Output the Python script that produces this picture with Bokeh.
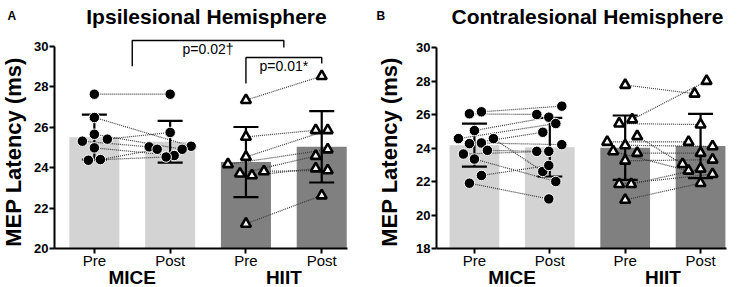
import math
from bokeh.plotting import figure
from bokeh.layouts import row
from bokeh.models import Range1d, FixedTicker, LinearAxis
from bokeh.core.properties import value
from bokeh.embed import file_html
from bokeh.resources import INLINE

FONT = "Liberation Sans"

# ---------------- data ----------------
conditions = ["Pre", "Post", "Pre", "Post"]
groups = ["MICE", "HIIT"]
ticks_A = [20, 22, 24, 26, 28, 30]
ticks_B = [18, 20, 22, 24, 26, 28, 30]

# Panel A: Ipsilesional (paired, same order pre/post)
A_mice_pre = [27.62, 26.47, 25.64, 25.40, 25.30, 24.97, 24.36, 24.39]
A_mice_post = [27.62, 25.05, 24.90, 25.73, 25.02, 24.59, 24.52, 24.90]
A_hiit_pre = [27.33, 25.51, 24.52, 24.16, 23.70, 23.61, 23.81, 21.22]
A_hiit_post = [28.51, 25.84, 25.84, 24.89, 24.57, 23.95, 23.86, 22.62]
A_means = [25.50, 25.27, 24.27, 25.02]
A_sd = [1.11, 1.03, 1.73, 1.76]

# Panel B: Contralesional
B_mice_pre = [26.04, 26.16, 25.04, 24.56, 24.56, 24.26, 24.30, 23.86, 23.64, 23.34, 22.36, 21.90]
B_mice_post = [26.00, 26.50, 25.84, 25.46, 22.60, 24.94, 24.20, 23.80, 23.80, 22.00, 22.96, 20.96]
B_hiit_pre = [27.76, 25.70, 25.46, 24.70, 24.36, 24.16, 23.80, 23.70, 23.24, 21.84, 21.84, 20.90]
B_hiit_post = [27.24, 28.00, 25.40, 23.04, 24.36, 24.10, 22.64, 23.70, 23.30, 22.44, 22.76, 21.90]
B_means = [24.17, 24.05, 24.02, 24.12]
B_sd = [1.28, 1.75, 1.92, 1.92]

# horizontal scatter jitter of the points (pixels)
A_jit_mice_pre = [0, 0, 0, 13, -12, 0, -6, 6]
A_jit_mice_post = [0, 21, 12, 0, -21, 4, -4, -13]
A_jit_hiit_pre = [0, 0, 0, -18, -6, 6, 18, 0]
A_jit_hiit_post = [0, -6, 6, 6, -6, -6, 6, 0]
B_jit_mice_pre = [-5, 7, 0, -16, 19, -5, 7, 13, -11, 0, 7, -5]
B_jit_mice_post = [-13, 12, -1, 6, -7, -7, 12, -13, -1, 6, -1, -1]
B_jit_hiit_pre = [0, 7, -6, 12, -18, 0, -12, 12, 0, -6, 6, 0]
B_jit_hiit_post = [-6, 6, 0, -18, -12, 12, -12, 0, 12, 12, 0, 0]

# significance annotations (panel A)
sig_texts = ["p=0.02\u2020", "p=0.01*"]
sig_x = [(0.5, 2.5), (2.0, 3.0)]
sig_top = [30.27, 29.43]
sig_legs = [(29.0, 29.93), (28.15, 29.14)]

LIGHT = "#d3d3d3"
DARK = "#808080"
H = 287


def make_panel(letter, title, fig_w, left_px, right_px, x_start, x_end,
               y_start, ppu_y, yticks, series, jitters, means, sds,
               title_cx, letter_x, ylab_x, sig=False):
    bottom_px = 248
    fw = right_px - left_px
    ppu_x = fw / (x_end - x_start)

    def X(px):
        return x_start + (px - left_px) / ppu_x

    def Y(py):
        return y_start + (bottom_px - py) / ppu_y

    p = figure(width=fig_w, height=H,
               x_range=Range1d(X(0), X(fig_w)), y_range=Range1d(Y(H), Y(0)),
               output_backend="svg", toolbar_location=None, title=None,
               x_axis_location=None, y_axis_location=None,
               min_border_left=0, min_border_right=0,
               min_border_top=0, min_border_bottom=0)
    p.outline_line_color = None
    p.xgrid.visible = False
    p.ygrid.visible = False
    p.background_fill_color = "white"
    p.border_fill_color = "white"

    def txt(x, y, t, size, bold=True, align="center", angle=0.0):
        p.text(x=[x], y=[y], text=[t], text_font=value(FONT),
               text_font_size=size, text_font_style="bold" if bold else "normal",
               text_align=align, text_baseline="middle",
               text_color="black", angle=angle)

    # bars
    xs = [0, 1, 2, 3]
    cols = [LIGHT, LIGHT, DARK, DARK]
    p.vbar(x=xs, top=means, bottom=y_start, width=0.66, fill_color=cols,
           line_color=None)

    # paired dotted lines
    for g in range(2):
        pre, post = series[2 * g], series[2 * g + 1]
        jpre, jpost = jitters[2 * g], jitters[2 * g + 1]
        x0 = [2 * g + j / ppu_x for j in jpre]
        x1 = [2 * g + 1 + j / ppu_x for j in jpost]
        p.segment(x0=x0, y0=pre, x1=x1, y1=post, line_color="#3a3a3a",
                  line_width=1.2, line_dash="1 1")

    # error bars
    lo = [m - s for m, s in zip(means, sds)]
    hi = [m + s for m, s in zip(means, sds)]
    cap = 12.5 / ppu_x
    p.segment(x0=xs, y0=lo, x1=xs, y1=hi, line_color="black", line_width=2.2)
    p.segment(x0=[x - cap for x in xs], y0=lo, x1=[x + cap for x in xs], y1=lo,
              line_color="black", line_width=2.2)
    p.segment(x0=[x - cap for x in xs], y0=hi, x1=[x + cap for x in xs], y1=hi,
              line_color="black", line_width=2.2)

    # points
    for k in range(4):
        xv = [k + j / ppu_x for j in jitters[k]]
        if k < 2:
            p.scatter(x=xv, y=series[k], marker="circle", size=10.5,
                      fill_color="black", line_color="white", line_width=1)
        else:
            p.scatter(x=xv, y=series[k], marker="triangle", size=10,
                      fill_color="white", line_color="black", line_width=2.6)

    # axes placed at fixed data locations
    xaxis = LinearAxis(fixed_location=y_start, bounds=(x_start, x_end),
                       ticker=FixedTicker(ticks=xs),
                       major_label_overrides={i: c for i, c in enumerate(conditions)},
                       major_label_text_font=FONT,
                       major_label_text_font_size="15px",
                       major_label_text_color="black",
                       major_label_standoff=-2)
    yaxis = LinearAxis(fixed_location=x_start, bounds=(yticks[0], yticks[-1]),
                       ticker=FixedTicker(ticks=yticks),
                       major_label_text_font=FONT,
                       major_label_text_font_size="13px",
                       major_label_text_font_style="bold",
                       major_label_text_color="black",
                       major_label_standoff=1)
    for ax in (xaxis, yaxis):
        ax.axis_line_width = 2
        ax.axis_line_color = "black"
        ax.major_tick_line_width = 2
        ax.major_tick_line_color = "black"
        ax.major_tick_out = 5
        ax.major_tick_in = 0
        ax.minor_tick_line_color = None
    p.add_layout(xaxis, "below")
    p.add_layout(yaxis, "left")

    # group labels (positions are cap-height centres)
    for g, name in enumerate(groups):
        txt(2 * g + 0.5, Y(276.5), name, "19px")
    # title & letter
    txt(X(title_cx), Y(15.5), title, "21px")
    txt(X(letter_x), Y(15.5), letter, "12px", align="left")
    # y-axis label
    txt(X(ylab_x), Y(151.5), "MEP Latency (ms)", "22px", angle=math.pi / 2)

    if sig:
        for t, (xa, xb), top, (la, lb), ty in zip(sig_texts, sig_x, sig_top,
                                                  sig_legs, [48.5, 65.0]):
            p.line(x=[xa, xa, xb, xb], y=[la, top, top, lb], line_color="black",
                   line_width=1.4)
            txt((xa + xb) / 2, Y(ty), t, "14px", bold=False)
    return p


pA = make_panel("A", "Ipsilesional Hemisphere", 372, 54, 347, -0.526, 3.34,
                20, 20.25, ticks_A,
                [A_mice_pre, A_mice_post, A_hiit_pre, A_hiit_post],
                [A_jit_mice_pre, A_jit_mice_post, A_jit_hiit_pre, A_jit_hiit_post],
                A_means, A_sd, title_cx=206, letter_x=7, ylab_x=13, sig=True)
pB = make_panel("B", "Contralesional Hemisphere", 371, 64, 354, -0.503, 3.344,
                18, 16.75, ticks_B,
                [B_mice_pre, B_mice_post, B_hiit_pre, B_hiit_post],
                [B_jit_mice_pre, B_jit_mice_post, B_jit_hiit_pre, B_jit_hiit_post],
                B_means, B_sd, title_cx=215, letter_x=4, ylab_x=16.5)

layout = row(pA, pB, spacing=0)
open("out.html", "w").write(file_html(layout, INLINE))
